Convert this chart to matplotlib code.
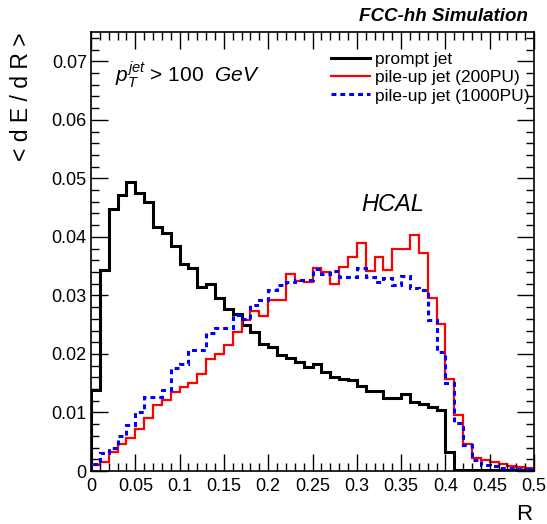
import numpy as np
import matplotlib
matplotlib.use("Agg")
import matplotlib.pyplot as plt
from matplotlib.ticker import MultipleLocator, FuncFormatter

plt.rcParams['font.family'] = ['Liberation Sans', 'DejaVu Sans']
plt.rcParams['mathtext.fontset'] = 'custom'
plt.rcParams['mathtext.rm'] = 'Liberation Sans'
plt.rcParams['mathtext.it'] = 'Liberation Sans:italic'

edges = np.linspace(0, 0.5, 51)

prompt = [0.0138, 0.0344, 0.0447, 0.0471, 0.0494, 0.0475, 0.0460, 0.0417, 0.0406, 0.0384,
          0.0354, 0.0346, 0.0315, 0.0320, 0.0295, 0.0276, 0.0269, 0.0249, 0.0238, 0.0217,
          0.0212, 0.0198, 0.0193, 0.0187, 0.0178, 0.0183, 0.0169, 0.0161, 0.0158, 0.0155,
          0.0145, 0.0137, 0.0137, 0.0124, 0.0124, 0.0131, 0.0118, 0.0114, 0.0110, 0.0105,
          0.0033, 0.0002, 0.0001, 0.0001, 0.0001, 0.0001, 0.0001, 0.0001, 0.0001, 0.0001]

pu200 = [0.0010, 0.0016, 0.0033, 0.0047, 0.0056, 0.0071, 0.0090, 0.0113, 0.0121, 0.0135,
         0.0144, 0.0150, 0.0166, 0.0192, 0.0200, 0.0215, 0.0238, 0.0258, 0.0274, 0.0265,
         0.0292, 0.0292, 0.0336, 0.0325, 0.0323, 0.0347, 0.0340, 0.0320, 0.0349, 0.0366,
         0.0389, 0.0342, 0.0366, 0.0343, 0.0379, 0.0380, 0.0403, 0.0372, 0.0295, 0.0251,
         0.0158, 0.0096, 0.0047, 0.0022, 0.0019, 0.0015, 0.0012, 0.0009, 0.0007, 0.0006]

pu1000 = [0.0012, 0.0031, 0.0040, 0.0059, 0.0078, 0.0101, 0.0126, 0.0126, 0.0138, 0.0176,
          0.0183, 0.0206, 0.0206, 0.0235, 0.0245, 0.0245, 0.0266, 0.0260, 0.0283, 0.0292,
          0.0309, 0.0317, 0.0323, 0.0326, 0.0326, 0.0345, 0.0337, 0.0342, 0.0332, 0.0332,
          0.0346, 0.0332, 0.0323, 0.0330, 0.0317, 0.0334, 0.0312, 0.0309, 0.0258, 0.0204,
          0.0150, 0.0082, 0.0044, 0.0019, 0.0011, 0.0008, 0.0006, 0.0005, 0.0004, 0.0004]

labels = ["prompt jet", "pile-up jet (200PU)", "pile-up jet (1000PU)"]

fig = plt.figure(figsize=(5.47, 5.24), dpi=100)
ax = fig.add_axes([0.1664, 0.1011, 0.8098, 0.8378])

ax.stairs(prompt, edges, color='black', linewidth=2.2, label=labels[0], baseline=0)
ax.stairs(pu200, edges, color='#ff0000', linewidth=1.6, label=labels[1], baseline=0)
ax.stairs(pu1000, edges, color='#0000ff', linewidth=2.2, linestyle=(0, (1.6, 1.3)),
          label=labels[2], baseline=0)

ax.set_xlim(0, 0.5)
ax.set_ylim(0, 0.075)
ax.xaxis.set_major_locator(MultipleLocator(0.05))
ax.xaxis.set_minor_locator(MultipleLocator(0.01))
ax.yaxis.set_major_locator(MultipleLocator(0.01))
ax.yaxis.set_minor_locator(MultipleLocator(0.002))
fmt = FuncFormatter(lambda v, p: '0' if abs(v) < 1e-9 else ('%g' % round(v, 3)))
ax.xaxis.set_major_formatter(fmt)
ax.yaxis.set_major_formatter(fmt)
ax.tick_params(which='both', direction='in', top=True, right=True, labelsize=13, width=1)
ax.tick_params(which='major', length=12)
ax.tick_params(which='minor', length=6)
ax.tick_params(axis='x', pad=5)
ax.tick_params(axis='y', pad=3)
for s in ax.spines.values():
    s.set_linewidth(1.2)

ax.set_xlabel('R', fontsize=16, loc='right')
ax.xaxis.set_label_coords(0.995, -0.075)
ax.set_ylabel('< d E / d R >', fontsize=16.5, loc='top')
ax.yaxis.set_label_coords(-0.131, 1.0)

fig.text(0.965, 0.9676, 'FCC-hh Simulation', fontsize=13.5, fontweight='bold',
         fontstyle='italic', ha='right', va='center')

ax.text(0.054, 0.902, r'$p_{T}^{jet}$ > 100  $GeV$', transform=ax.transAxes,
        fontsize=15, ha='left', va='center')
ax.text(0.61, 0.606, 'HCAL', transform=ax.transAxes, fontsize=17,
        fontstyle='italic', ha='left', va='center')

leg = ax.legend(loc='upper left', bbox_to_anchor=(0.542, 0.954), frameon=False,
                fontsize=12.5, handlelength=2.25, handletextpad=0.3, labelspacing=0.17,
                borderaxespad=0.0, borderpad=0.0)

fig.savefig('out.png', dpi=100)
